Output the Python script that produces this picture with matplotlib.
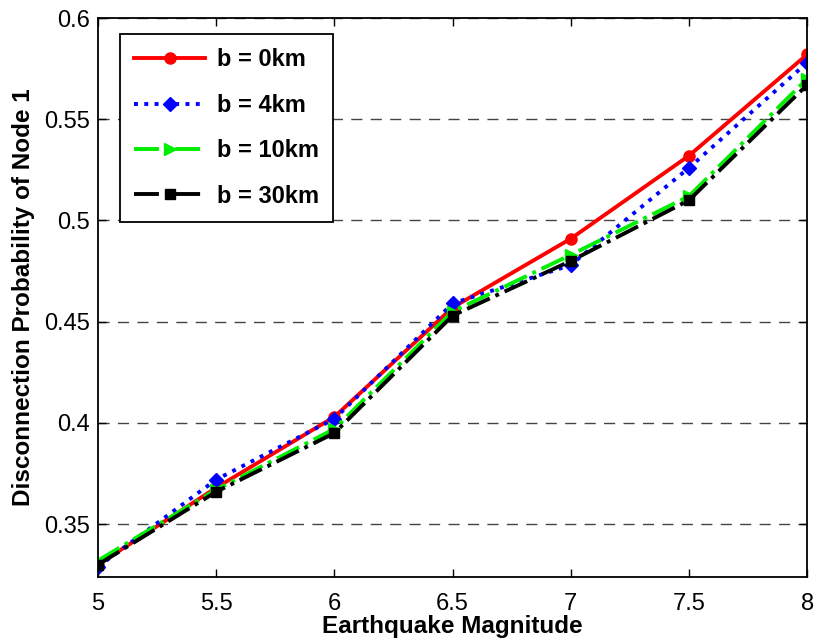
import matplotlib
matplotlib.use('Agg')
import matplotlib.pyplot as plt

plt.rcParams['font.family'] = ['Liberation Sans', 'DejaVu Sans']

magnitude = [5, 5.5, 6, 6.5, 7, 7.5, 8]
p_0km = [0.330, 0.368, 0.403, 0.457, 0.491, 0.532, 0.582]
p_4km = [0.329, 0.372, 0.402, 0.459, 0.478, 0.526, 0.578]
p_10km = [0.332, 0.367, 0.397, 0.455, 0.483, 0.512, 0.570]
p_30km = [0.330, 0.366, 0.395, 0.453, 0.480, 0.510, 0.567]
labels = ['b = 0km', 'b = 4km', 'b = 10km', 'b = 30km']

fig = plt.figure(figsize=(8.17, 6.43), dpi=100)
ax = fig.add_axes([0.12, 0.103, 0.868, 0.869])

ax.plot(magnitude, p_0km, '-', color='red', lw=2.8, marker='o', ms=8, label=labels[0])
ax.plot(magnitude, p_4km, ':', color='blue', lw=2.8, marker='D', ms=7, label=labels[1])
ax.plot(magnitude, p_10km, '-.', color='#00ee00', lw=2.8, marker='>', ms=9, label=labels[2])
ax.plot(magnitude, p_30km, '-.', color='black', lw=2.8, marker='s', ms=7, label=labels[3])

ax.set_xlim(5, 8)
ax.set_ylim(0.324, 0.6)
ax.set_xticks(magnitude)
ax.set_xticklabels(['5', '5.5', '6', '6.5', '7', '7.5', '8'])
ax.set_yticks([0.35, 0.4, 0.45, 0.5, 0.55, 0.6])
ax.set_yticklabels(['0.35', '0.4', '0.45', '0.5', '0.55', '0.6'])
ax.yaxis.grid(True, linestyle=(0, (8, 6)), color='#444444', lw=1.0)
ax.tick_params(direction='in', labelsize=17, length=6, top=True, right=True, width=1)
ax.tick_params(axis='x', pad=12)
ax.tick_params(axis='y', pad=6)
for s in ax.spines.values():
    s.set_linewidth(1.3)

ax.set_xlabel('Earthquake Magnitude', fontsize=17.5, fontweight='bold', labelpad=0)
ax.set_ylabel('Disconnection Probability of Node 1', fontsize=17.5, fontweight='bold', labelpad=6)

leg = ax.legend(loc='upper left', bbox_to_anchor=(0.031, 0.971), borderaxespad=0,
                fancybox=False, edgecolor='black', framealpha=1,
                prop={'weight': 'bold', 'size': 17},
                handlelength=3.0, labelspacing=0.95, borderpad=0.6, handletextpad=0.5)
leg.get_frame().set_linewidth(1.3)

fig.savefig('out.png', dpi=100)
